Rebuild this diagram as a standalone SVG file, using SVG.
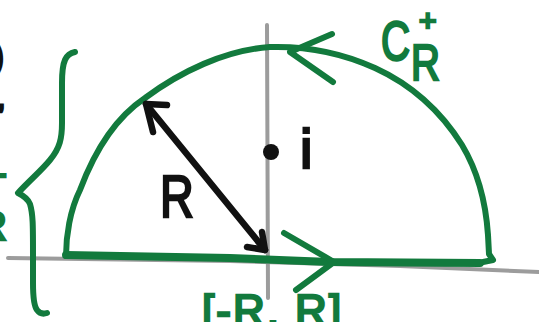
<svg xmlns="http://www.w3.org/2000/svg" width="539" height="322" viewBox="0 0 539 322">
<style>
.axis{fill:none;stroke:#9c9c9c;stroke-width:4;stroke-linecap:round}
.g{fill:none;stroke:#127a3d;stroke-width:6;stroke-linecap:round;stroke-linejoin:round}
.k{fill:none;stroke:#111;stroke-width:6.5;stroke-linecap:round;stroke-linejoin:round}
.tg{font-family:"Liberation Sans",Arial,sans-serif;fill:#127a3d;stroke:#127a3d;stroke-width:2.5}
.tk{font-family:"Liberation Sans",Arial,sans-serif;fill:#111;stroke:#111;stroke-width:2.5}
</style>
<rect width="539" height="322" fill="#fff"/>
<g id="axes">
<path class="axis" d="M8 258 L230 261 L400 266 L539 272"/>
<path class="axis" d="M267 25 L268 298"/>
</g>
<g id="contour">
<path class="g" d="M66 256 C66 236 70 210 80 190 C95 150 115 118 145 98 C180 72 225 50 270 47 C305 46 340 52 375 68 C410 84 440 110 462 145 C480 175 486 205 488 235 L489 254 L493 260 L483 262"/>
<path class="g" style="stroke-width:8" d="M66 255 L230 258 L330 262 L480 263"/>
</g>
<g id="connectors">
<path class="g" d="M332 34 L290 52 L333 82"/>
<path class="g" d="M284 233 L334 262 L296 290"/>
<path class="k" d="M146 104 L265 250"/>
<path class="k" d="M167 105 L146 104 L153 132"/>
<path class="k" d="M262 232 L265 250 L247 247"/>
</g>
<g id="brace">
<path class="g" d="M75 52 C66 54 62 60 62 83 L62 123 C62 138 60 148 50 160 C42 170 30 180 18 193 C24 196 28 199 30 204 C33 214 33 225 33 253 L33 283 C33 298 34 306 37 310 C40 314 44 314 47 313"/>
</g>
<g id="dot">
<circle cx="271" cy="152" r="8" fill="#111"/>
</g>
<g id="labels">
<text class="tk" font-size="60" transform="translate(160,217) scale(0.78,1)">R</text>
<text class="tk" x="300" y="168" font-size="56">i</text>
<text class="tg" font-size="56" transform="translate(381,60) scale(0.72,1)">C</text>
<text class="tg" x="419" y="31" font-size="30">+</text>
<text class="tg" font-size="50" transform="translate(411,80) scale(0.8,1)">R</text>
<text class="tg" x="202" y="326" font-size="44" letter-spacing="2">[-R, R]</text>
<text class="tk" x="-9" y="70" font-size="40">)</text>
<text class="tk" x="-3" y="108" font-size="30">,</text>
<text class="tg" x="-14" y="188" font-size="36">+</text>
<text class="tg" x="-22" y="240" font-size="40">R</text>
</g>
</svg>
